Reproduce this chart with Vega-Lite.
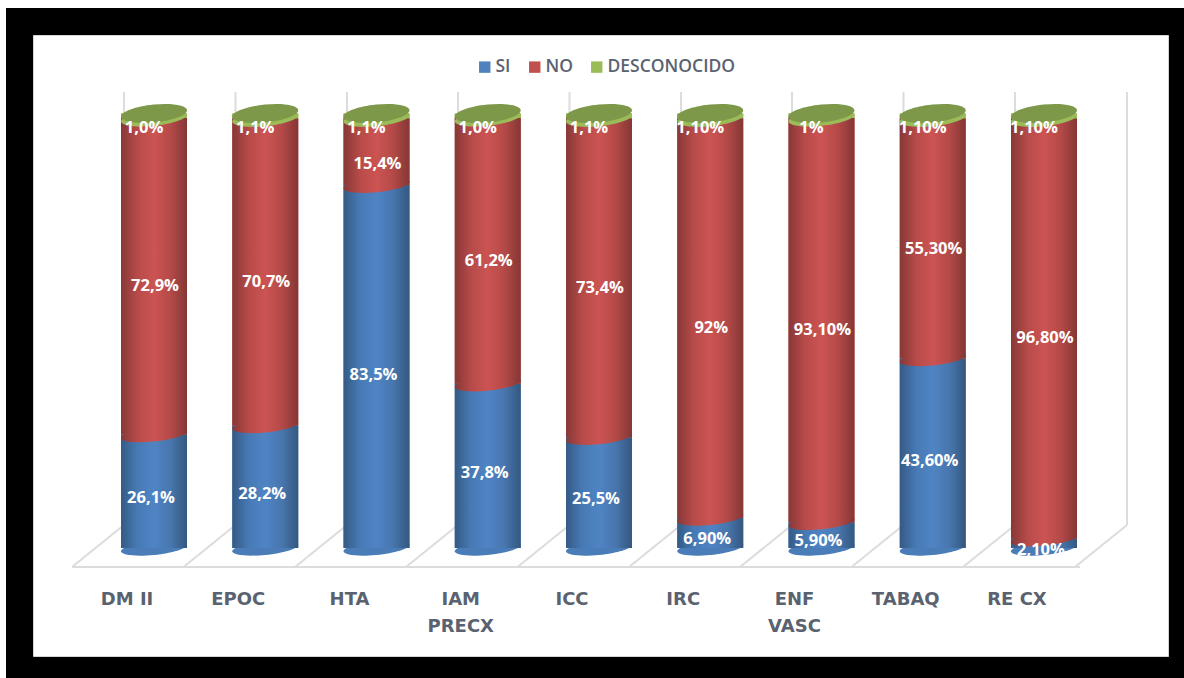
{"$schema":"https://vega.github.io/schema/vega-lite/v6.json","width":1135,"height":621,"autosize":{"type":"none"},"padding":{"left":33,"top":35,"right":16,"bottom":22},"background":"#000000","view":{"fill":"#ffffff","stroke":"#d4d4d4"},"datasets":{"rows":[
{"category":"DM II","series":"SI","value":26.1,"label":"26,1%"},{"category":"DM II","series":"NO","value":72.9,"label":"72,9%"},{"category":"DM II","series":"DESCONOCIDO","value":1.0,"label":"1,0%"},
{"category":"EPOC","series":"SI","value":28.2,"label":"28,2%"},{"category":"EPOC","series":"NO","value":70.7,"label":"70,7%"},{"category":"EPOC","series":"DESCONOCIDO","value":1.1,"label":"1,1%"},
{"category":"HTA","series":"SI","value":83.5,"label":"83,5%"},{"category":"HTA","series":"NO","value":15.4,"label":"15,4%"},{"category":"HTA","series":"DESCONOCIDO","value":1.1,"label":"1,1%"},
{"category":"IAM PRECX","series":"SI","value":37.8,"label":"37,8%"},{"category":"IAM PRECX","series":"NO","value":61.2,"label":"61,2%"},{"category":"IAM PRECX","series":"DESCONOCIDO","value":1.0,"label":"1,0%"},
{"category":"ICC","series":"SI","value":25.5,"label":"25,5%"},{"category":"ICC","series":"NO","value":73.4,"label":"73,4%"},{"category":"ICC","series":"DESCONOCIDO","value":1.1,"label":"1,1%"},
{"category":"IRC","series":"SI","value":6.9,"label":"6,90%"},{"category":"IRC","series":"NO","value":92,"label":"92%"},{"category":"IRC","series":"DESCONOCIDO","value":1.1,"label":"1,10%"},
{"category":"ENF VASC","series":"SI","value":5.9,"label":"5,90%"},{"category":"ENF VASC","series":"NO","value":93.1,"label":"93,10%"},{"category":"ENF VASC","series":"DESCONOCIDO","value":1,"label":"1%"},
{"category":"TABAQ","series":"SI","value":43.6,"label":"43,60%"},{"category":"TABAQ","series":"NO","value":55.3,"label":"55,30%"},{"category":"TABAQ","series":"DESCONOCIDO","value":1.1,"label":"1,10%"},
{"category":"RE CX","series":"SI","value":2.1,"label":"2,10%"},{"category":"RE CX","series":"NO","value":96.8,"label":"96,80%"},{"category":"RE CX","series":"DESCONOCIDO","value":1.1,"label":"1,10%"}
],
"frame":[{"x":-33,"x2":-27,"y":-35,"y2":643},{"x":-33,"x2":1151,"y":-35,"y2":-27}],
"floor":[
{"x":39,"y":532,"x2":1047,"y2":532},
{"x":39,"y":532,"x2":91,"y2":490},{"x":150.5,"y":532,"x2":202.5,"y2":490},{"x":262,"y":532,"x2":314,"y2":490},{"x":373,"y":532,"x2":425,"y2":490},{"x":484.5,"y":532,"x2":536.5,"y2":490},{"x":596,"y":532,"x2":648,"y2":490},{"x":707,"y":532,"x2":759,"y2":490},{"x":818.5,"y":532,"x2":870.5,"y2":490},{"x":930,"y":532,"x2":982,"y2":490},{"x":1042,"y":532,"x2":1094,"y2":490},
{"x":91,"y":490,"x2":91,"y2":57},{"x":202.5,"y":490,"x2":202.5,"y2":57},{"x":314,"y":490,"x2":314,"y2":57},{"x":425,"y":490,"x2":425,"y2":57},{"x":536.5,"y":490,"x2":536.5,"y2":57},{"x":648,"y":490,"x2":648,"y2":57},{"x":759,"y":490,"x2":759,"y2":57},{"x":870.5,"y":490,"x2":870.5,"y2":57},{"x":982,"y":490,"x2":982,"y2":57},{"x":1094,"y":490,"x2":1094,"y2":57}
]},
"layer":[
{"data":{"name":"frame"},"mark":{"type":"rect","fill":"#ffffff","clip":false},"encoding":{"x":{"field":"x","type":"quantitative","scale":{"domain":[0,1135],"nice":false,"zero":false},"axis":null},"x2":{"field":"x2"},"y":{"field":"y","type":"quantitative","scale":{"domain":[621,0],"range":[621,0],"nice":false,"zero":false},"axis":null},"y2":{"field":"y2"}}},
{"data":{"name":"floor"},"mark":{"type":"rule","color":"#dcdcdc","strokeWidth":2},"encoding":{"x":{"field":"x","type":"quantitative","scale":{"domain":[0,1135],"nice":false,"zero":false},"axis":null},"x2":{"field":"x2"},"y":{"field":"y","type":"quantitative","scale":{"domain":[621,0],"range":[621,0],"nice":false,"zero":false},"axis":null},"y2":{"field":"y2"}}},
{"data":{"name":"rows"},"transform":[{"stack":"value","groupby":["category"],"sort":[{"field":"series","order":"descending"}],"as":["y0","y1"]}],
"encoding":{"x":{"field":"category","type":"nominal","sort":null,"scale":{"domain":["DM II","EPOC","HTA","IAM PRECX","ICC","IRC","ENF VASC","TABAQ","RE CX"],"range":[65.4,1066.6],"paddingInner":0.407,"paddingOuter":0.2035},"axis":{"title":null,"domain":false,"ticks":false,"grid":false,"labelAngle":0,"offset":-66,"labelPadding":0,"labelOffset":-27,"labelBaseline":"top","labelFont":"DejaVu Sans","labelFontWeight":"bold","labelFontSize":18,"labelColor":"#5a6270","labelLineHeight":27,"labelOverlap":false,"labelBound":false,"labelFlush":false,"labelExpr":"datum.label=='IAM PRECX'||datum.label=='ENF VASC'?split(datum.label,' '):datum.label"}},"y":{"field":"y0","type":"quantitative","scale":{"domain":[-24.86,118.07],"nice":false,"zero":false},"axis":null}},
"layer":[
{"mark":{"type":"bar"},"encoding":{"y2":{"field":"y1"},"color":{"field":"series","type":"nominal","scale":{"domain":["SI","NO","DESCONOCIDO"],"range":["#4f81bd","#c0504d","#9bbb59"]},"legend":{"title":null,"orient":"none","legendX":443,"legendY":23,"direction":"horizontal","columns":3,"symbolType":"square","symbolSize":130,"symbolStrokeWidth":0,"symbolOpacity":1,"labelFont":"Open Sans","labelFontSize":17.5,"labelFontWeight":600,"labelColor":"#5a6270","labelOffset":2,"columnPadding":15}}}},
{"transform":[{"filter":"datum.series=='SI'"}],"mark":{"type":"point","shape":"M-1,0.1A1.005,0.21,-6,1,1,1,-0.1A1.005,0.21,-6,1,1,-1,0.1Z","filled":true,"size":4356,"strokeWidth":0,"opacity":1,"fill":"#4a7cb8"}},
{"transform":[{"filter":"datum.series=='SI'"}],"mark":{"type":"bar","fill":{"x1":0,"y1":0,"x2":1,"y2":0,"gradient":"linear","stops":[{"offset":0,"color":"#355a85"},{"offset":0.25,"color":"#477aB5"},{"offset":0.5,"color":"#4f84c4"},{"offset":0.75,"color":"#4876ae"},{"offset":1,"color":"#34587f"}]}},"encoding":{"y2":{"field":"y1"}}},
{"transform":[{"filter":"datum.series=='NO'"}],"mark":{"type":"point","shape":"M-1,0.1A1.005,0.21,-6,1,1,1,-0.1A1.005,0.21,-6,1,1,-1,0.1Z","filled":true,"size":4356,"strokeWidth":0,"opacity":1,"fill":{"x1":0,"y1":0,"x2":1,"y2":0,"gradient":"linear","stops":[{"offset":0,"color":"#873836"},{"offset":0.25,"color":"#b74b49"},{"offset":0.5,"color":"#cc5452"},{"offset":0.75,"color":"#b44a48"},{"offset":1,"color":"#843735"}]}}},
{"transform":[{"filter":"datum.series=='NO'"}],"mark":{"type":"bar","fill":{"x1":0,"y1":0,"x2":1,"y2":0,"gradient":"linear","stops":[{"offset":0,"color":"#873836"},{"offset":0.25,"color":"#b74b49"},{"offset":0.5,"color":"#cc5452"},{"offset":0.75,"color":"#b44a48"},{"offset":1,"color":"#843735"}]}},"encoding":{"y2":{"field":"y1"}}},
{"transform":[{"filter":"datum.series=='DESCONOCIDO'"}],"mark":{"type":"point","shape":"M-1,0.1A1.005,0.24,-6,1,1,1,-0.1A1.005,0.24,-6,1,1,-1,0.1Z","filled":true,"size":4356,"strokeWidth":0,"opacity":1,"fill":"#9bbb59"}},
{"transform":[{"filter":"datum.series=='DESCONOCIDO'"}],"mark":{"type":"bar","fill":"#9bbb59"},"encoding":{"y2":{"field":"y1"}}},
{"transform":[{"filter":"datum.series=='DESCONOCIDO'"}],"mark":{"type":"point","shape":"M-1,0.1A1.005,0.27,-6,1,1,1,-0.1A1.005,0.27,-6,1,1,-1,0.1Z","filled":true,"size":4356,"strokeWidth":0,"opacity":1,"fill":"#7d9848"},"encoding":{"y":{"field":"y1","type":"quantitative"}}}
]},
{"data":{"name":"rows"},"transform":[{"stack":"value","groupby":["category"],"sort":[{"field":"series","order":"descending"}],"as":["y0","y1"]},{"fold":["y0","y1"],"as":["edge","pos"]},{"aggregate":[{"op":"mean","field":"pos","as":"mid"}],"groupby":["category","series","label"]}],
"encoding":{"x":{"field":"category","type":"nominal","sort":null,"scale":{"domain":["DM II","EPOC","HTA","IAM PRECX","ICC","IRC","ENF VASC","TABAQ","RE CX"],"range":[65.4,1066.6],"paddingInner":0.407,"paddingOuter":0.2035},"axis":null},"y":{"field":"mid","type":"quantitative","scale":{"domain":[-23.83,121.26],"nice":false,"zero":false},"axis":null},"text":{"field":"label","type":"nominal"}},
"layer":[
{"transform":[{"filter":"datum.series=='SI'"}],"mark":{"type":"text","font":"Open Sans","fontWeight":"bold","fontSize":16.5,"color":"#ffffff","dx":-3}},
{"transform":[{"filter":"datum.series=='NO'"}],"mark":{"type":"text","font":"Open Sans","fontWeight":"bold","fontSize":16.5,"color":"#ffffff","dx":1}},
{"transform":[{"filter":"datum.series=='DESCONOCIDO'"}],"mark":{"type":"text","font":"Open Sans","fontWeight":"bold","fontSize":16.5,"color":"#ffffff","dx":-10}}
]}
],
"resolve":{"scale":{"x":"independent","y":"independent"},"axis":{"x":"independent","y":"independent"}}}
